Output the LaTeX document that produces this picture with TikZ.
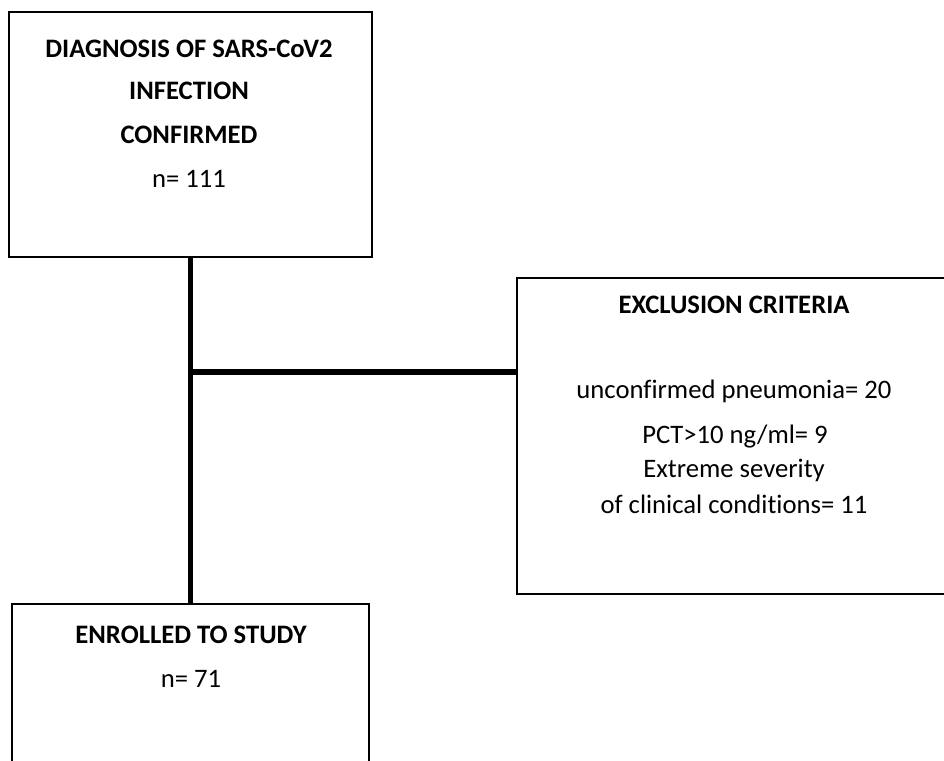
\documentclass[tikz,border=0pt]{standalone}
\usepackage{fontspec}
\setmainfont[Ligatures=NoCommon]{Carlito}

\begin{document}
\begin{tikzpicture}[x=0.75pt,y=-0.75pt,
	flowbox/.style={draw, line width=1.8pt, inner sep=0pt},
	head/.style={font=\bfseries\fontsize{20}{24}\selectfont, anchor=base},
	body/.style={font=\fontsize{20}{24}\selectfont, anchor=base},
	link/.style={line width=4pt}]

	\useasboundingbox (0,0) rectangle (944,760);
	\clip (0,0) rectangle (944,760);

	% Boxes
	\node[flowbox, minimum width=272pt, minimum height=184pt] (diag) at (190.5,134.5) {};
	\node[flowbox, minimum width=325pt, minimum height=237pt] (excl) at (733.5,436) {};
	\node[flowbox, minimum width=268pt, minimum height=184pt] (enrol) at (190.5,726.5) {};

	% Top box
	\node[head] (diag1) at (189,57) {DIAGNOSIS OF SARS-CoV2};
	\node[head] (diag2) at (189,99) {INFECTION};
	\node[head] (diag3) at (189,143) {CONFIRMED};
	\node[body] (diag4) at (189,187) {n= 111};

	% Exclusion box
	\node[head] (excl1) at (734,313) {EXCLUSION CRITERIA};
	\node[body] (excl2) at (734,398) {unconfirmed pneumonia= 20};
	\node[body] (excl3) at (735,443) {PCT>10 ng/ml= 9};
	\node[body] (excl4) at (734,477) {Extreme severity};
	\node[body] (excl5) at (734,513) {of clinical conditions= 11};

	% Bottom box
	\node[head] (enrol1) at (191,643) {ENROLLED TO STUDY};
	\node[body] (enrol2) at (191,687) {n= 71};

	% Connectors
	\coordinate (split) at (190.5,372);
	\draw[link] (diag.south) -- (enrol.north);
	\draw[link, line width=4.5pt] (split) -- (split -| excl.west);

\end{tikzpicture}
\end{document}
